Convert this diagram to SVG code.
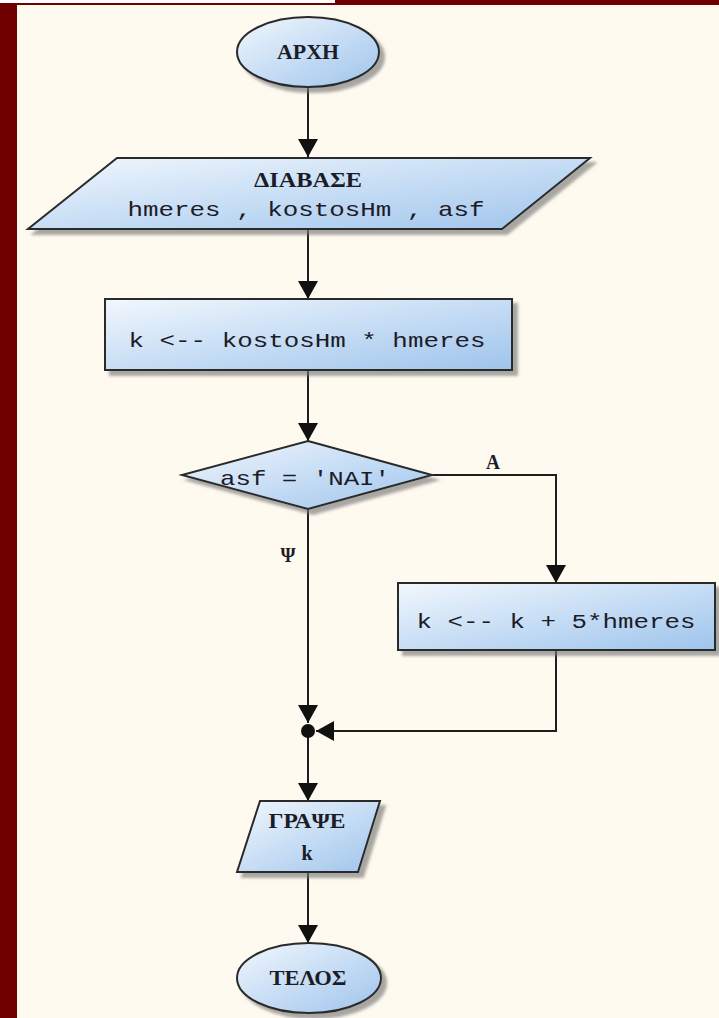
<svg xmlns="http://www.w3.org/2000/svg" width="719" height="1018" viewBox="0 0 719 1018">
  <defs>
    <linearGradient id="nodeFill" x1="0" y1="0" x2="1" y2="1">
      <stop offset="0" stop-color="#f2f7fd"/>
      <stop offset="0.55" stop-color="#c3dbf4"/>
      <stop offset="1" stop-color="#9fc4ec"/>
    </linearGradient>
    <filter id="dropShadow" x="-10%" y="-20%" width="130%" height="150%">
      <feGaussianBlur in="SourceAlpha" stdDeviation="1.8" result="blur"/>
      <feOffset in="blur" dx="5" dy="5" result="off"/>
      <feFlood flood-color="#7a7a7a" flood-opacity="0.65"/>
      <feComposite in2="off" operator="in" result="shadow"/>
      <feMerge>
        <feMergeNode in="shadow"/>
        <feMergeNode in="SourceGraphic"/>
      </feMerge>
    </filter>
    <marker id="arrow" viewBox="0 0 18 20" refX="18" refY="10" markerWidth="18" markerHeight="20" markerUnits="userSpaceOnUse" orient="auto">
      <path d="M0,0 L18,10 L0,20 Z" fill="#111"/>
    </marker>
  </defs>
  <style>
    .shape { fill: url(#nodeFill); stroke: #2b2b2b; stroke-width: 2; filter: url(#dropShadow); }
    .label { font-family: "Liberation Mono", "DejaVu Sans Mono", monospace; font-size: 21px; fill: #1c1c28; text-anchor: middle; }
    .caps { font-family: "Liberation Serif", "DejaVu Serif", serif; font-size: 20px; font-weight: bold; }
    .edge { fill: none; stroke: #1e1e1e; stroke-width: 2; }
    .branch { font-family: "Liberation Serif", "DejaVu Serif", serif; font-size: 20px; font-weight: bold; fill: #1c1c28; text-anchor: middle; }
  </style>

  <!-- page background and frame -->
  <rect x="0" y="0" width="719" height="1018" fill="#fffaef"/>
  <rect x="0" y="0" width="719" height="5" fill="#6e0000"/>
  <rect x="0" y="0" width="335" height="3" fill="#ffffff"/>
  <rect x="0" y="4" width="17" height="1014" fill="#6e0000"/>

  <!-- connectors -->
  <g id="connectors">
    <path class="edge" d="M308,87 L308,157" marker-end="url(#arrow)"/>
    <path class="edge" d="M308,229 L308,299" marker-end="url(#arrow)"/>
    <path class="edge" d="M308,370 L308,441" marker-end="url(#arrow)"/>
    <path class="edge" d="M432,475 L556,475 L556,583" marker-end="url(#arrow)"/>
    <path class="edge" d="M308,509 L308,723" marker-end="url(#arrow)"/>
    <path class="edge" d="M556,650 L556,731 L316,731" marker-end="url(#arrow)"/>
    <path class="edge" d="M308,731 L308,801" marker-end="url(#arrow)"/>
    <path class="edge" d="M308,872 L308,943" marker-end="url(#arrow)"/>
    <circle cx="308" cy="731" r="7" fill="#111"/>
    <text class="branch" x="493" y="469" textLength="14" lengthAdjust="spacingAndGlyphs">Α</text>
    <text class="branch" x="288" y="562" textLength="15" lengthAdjust="spacingAndGlyphs">Ψ</text>
  </g>

  <!-- start -->
  <g id="start">
    <ellipse class="shape" cx="308" cy="52" rx="71" ry="35"/>
    <text class="label caps" x="308" y="59" textLength="62" lengthAdjust="spacingAndGlyphs">ΑΡΧΗ</text>
  </g>

  <!-- input -->
  <g id="read">
    <polygon class="shape" points="117,158 590,158 502,229 28,229"/>
    <text class="label caps" x="308" y="187" textLength="108" lengthAdjust="spacingAndGlyphs">ΔΙΑΒΑΣΕ</text>
    <text class="label" x="306" y="216" textLength="357" lengthAdjust="spacingAndGlyphs">hmeres , kostosHm , asf</text>
  </g>

  <!-- cost computation -->
  <g id="cost">
    <rect class="shape" x="105" y="299" width="407" height="71"/>
    <text class="label" x="307" y="347" textLength="357" lengthAdjust="spacingAndGlyphs">k &lt;-- kostosHm * hmeres</text>
  </g>

  <!-- decision -->
  <g id="decision">
    <polygon class="shape" points="308,441 432,475 308,509 182,475"/>
    <text class="label" x="305" y="485" textLength="170" lengthAdjust="spacingAndGlyphs">asf = 'NAI'</text>
  </g>

  <!-- insurance surcharge -->
  <g id="surcharge">
    <rect class="shape" x="398" y="583" width="317" height="67"/>
    <text class="label" x="556" y="628" textLength="279" lengthAdjust="spacingAndGlyphs">k &lt;-- k + 5*hmeres</text>
  </g>

  <!-- output -->
  <g id="write">
    <polygon class="shape" points="260,801 380,801 358,872 237,872"/>
    <text class="label caps" x="307" y="828" textLength="77" lengthAdjust="spacingAndGlyphs">ΓΡΑΨΕ</text>
    <text class="label caps" x="307" y="860">k</text>
  </g>

  <!-- end -->
  <g id="end">
    <ellipse class="shape" cx="309" cy="978" rx="72" ry="35"/>
    <text class="label caps" x="308" y="985" textLength="77" lengthAdjust="spacingAndGlyphs">ΤΕΛΟΣ</text>
  </g>
</svg>
